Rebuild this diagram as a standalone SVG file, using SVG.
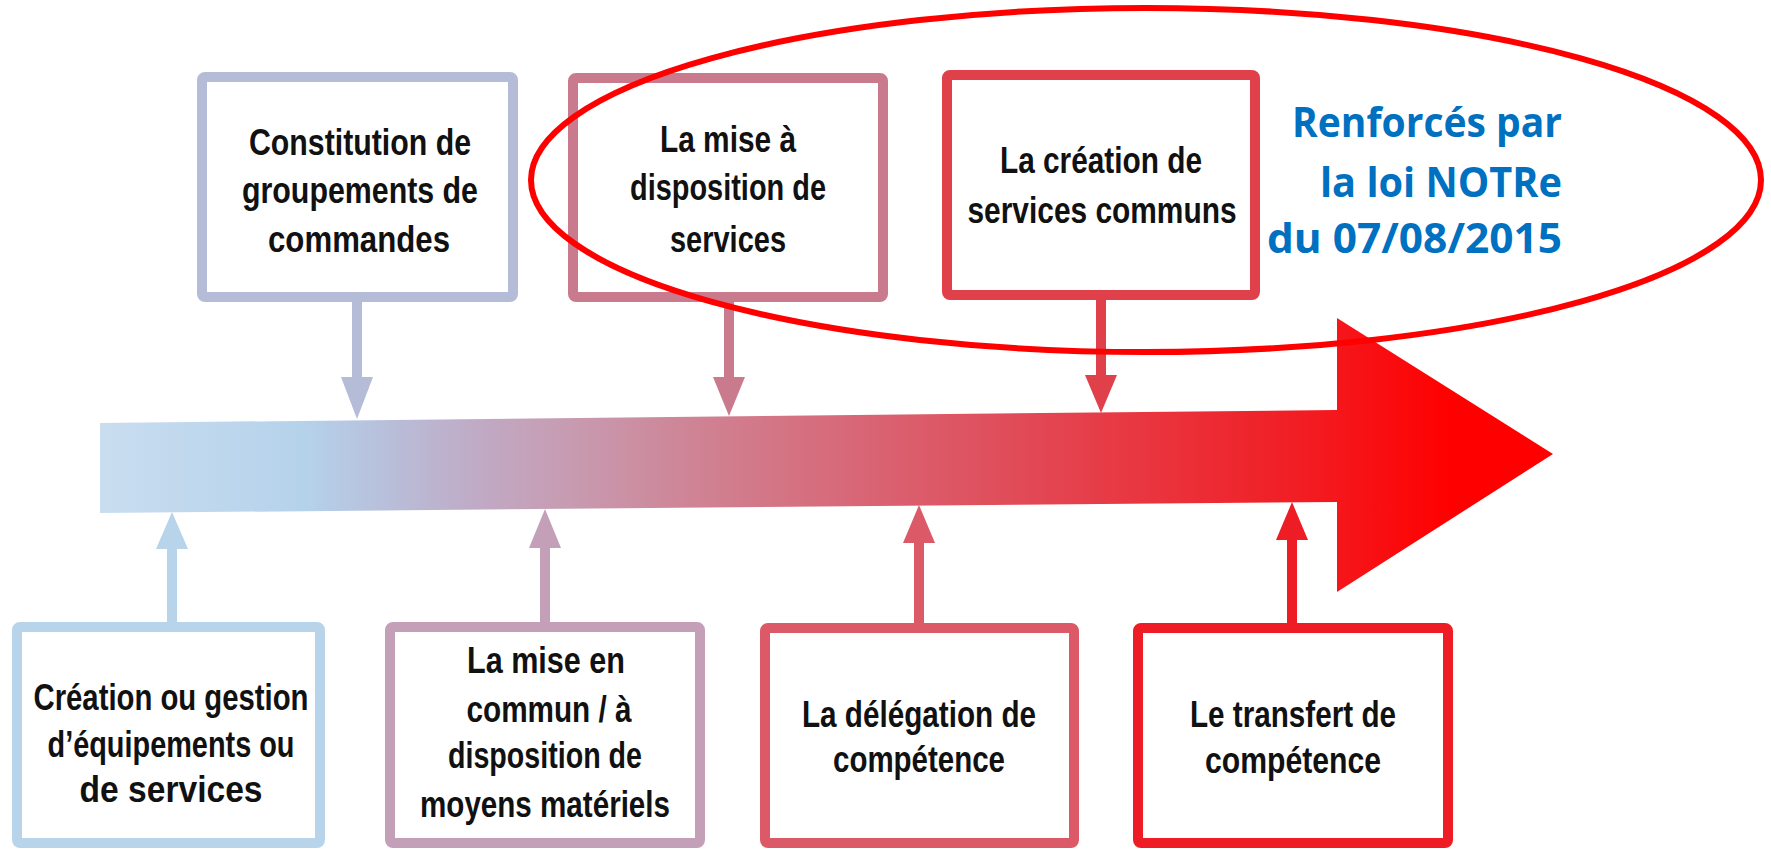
<svg xmlns="http://www.w3.org/2000/svg" width="1771" height="850" viewBox="0 0 1771 850">
  <style>
    .box { fill: #ffffff; stroke-width: 10; }
    .t { font-family: "Liberation Sans Narrow", "Liberation Sans", Arial, sans-serif; font-weight: bold; font-size: 37px; fill: #111111; text-anchor: middle; }
    .blue { font-family: "Open Sans", "Noto Sans", "Liberation Sans", sans-serif; font-weight: bold; font-size: 41px; fill: #0070c0; text-anchor: end; }
  </style>
  <defs>
    <linearGradient id="flow" gradientUnits="userSpaceOnUse" x1="100" y1="0" x2="1553" y2="0">
      <stop offset="0" stop-color="#c9ddef"/>
      <stop offset="0.14" stop-color="#b5d2eb"/>
      <stop offset="0.2" stop-color="#b8bed9"/>
      <stop offset="0.26" stop-color="#c0aac5"/>
      <stop offset="0.32" stop-color="#c79cb2"/>
      <stop offset="0.41" stop-color="#cf8394"/>
      <stop offset="0.55" stop-color="#da5f6e"/>
      <stop offset="0.69" stop-color="#e63c47"/>
      <stop offset="0.83" stop-color="#f21c22"/>
      <stop offset="0.93" stop-color="#ff0000"/>
      <stop offset="1" stop-color="#ff0000"/>
    </linearGradient>
  </defs>
  <rect width="1771" height="850" fill="#ffffff"/>

  <!-- main timeline arrow -->
  <g id="timeline">
    <polygon points="100,423 1337,410 1337,318 1553,454 1337,592 1337,502 100,513" fill="url(#flow)"/>
  </g>

  <g id="connectors">
    <g fill="#b4bcd8">
      <rect x="352" y="300" width="10" height="78"/>
      <polygon points="341,377 373,377 357,419"/>
    </g>
    <g fill="#c97b8d">
      <rect x="724" y="300" width="10" height="78"/>
      <polygon points="713,377 745,377 729,416"/>
    </g>
    <g fill="#e0404a">
      <rect x="1096" y="298" width="10" height="78"/>
      <polygon points="1085,375 1117,375 1101,413"/>
    </g>
    <g fill="#b8d4ea">
      <rect x="167" y="546" width="10" height="80"/>
      <polygon points="156,549 188,549 172,512"/>
    </g>
    <g fill="#c4a0b8">
      <rect x="540" y="546" width="10" height="80"/>
      <polygon points="529,548 561,548 545,509"/>
    </g>
    <g fill="#dc5a68">
      <rect x="914" y="541" width="10" height="85"/>
      <polygon points="903,543 935,543 919,505"/>
    </g>
    <g fill="#ee1c24">
      <rect x="1287" y="538" width="10" height="88"/>
      <polygon points="1276,540 1308,540 1292,502"/>
    </g>
  </g>

  <g id="node-groupements">
    <rect class="box" x="202" y="77" width="311" height="220" rx="3" stroke="#b4bcd8"/>
    <text class="t" x="360" y="155" textLength="222" lengthAdjust="spacingAndGlyphs">Constitution de</text>
    <text class="t" x="360" y="203" textLength="236" lengthAdjust="spacingAndGlyphs">groupements de</text>
    <text class="t" x="359" y="252" textLength="182" lengthAdjust="spacingAndGlyphs">commandes</text>
  </g>

  <g id="node-mise-disposition-services">
    <rect class="box" x="573" y="78" width="310" height="219" rx="3" stroke="#c97b8d"/>
    <text class="t" x="728" y="152" textLength="136" lengthAdjust="spacingAndGlyphs">La mise à</text>
    <text class="t" x="728" y="200" textLength="196" lengthAdjust="spacingAndGlyphs">disposition de</text>
    <text class="t" x="728" y="252" textLength="116" lengthAdjust="spacingAndGlyphs">services</text>
  </g>

  <g id="node-services-communs">
    <rect class="box" x="947" y="75" width="308" height="220" rx="3" stroke="#e0404a"/>
    <text class="t" x="1101" y="173" textLength="202" lengthAdjust="spacingAndGlyphs">La création de</text>
    <text class="t" x="1102" y="223" textLength="269" lengthAdjust="spacingAndGlyphs">services communs</text>
  </g>

  <g id="node-equipements">
    <rect class="box" x="17" y="627" width="303" height="216" rx="3" stroke="#b8d4ea"/>
    <text class="t" x="171" y="710" textLength="275" lengthAdjust="spacingAndGlyphs">Création ou gestion</text>
    <text class="t" x="171" y="757" textLength="247" lengthAdjust="spacingAndGlyphs">d’équipements ou</text>
    <text class="t" x="171" y="802" textLength="183" lengthAdjust="spacingAndGlyphs">de services</text>
  </g>

  <g id="node-moyens-materiels">
    <rect class="box" x="390" y="627" width="310" height="216" rx="3" stroke="#c4a0b8"/>
    <text class="t" x="546" y="673" textLength="158" lengthAdjust="spacingAndGlyphs">La mise en</text>
    <text class="t" x="549" y="722" textLength="165" lengthAdjust="spacingAndGlyphs">commun / à</text>
    <text class="t" x="545" y="768" textLength="194" lengthAdjust="spacingAndGlyphs">disposition de</text>
    <text class="t" x="545" y="817" textLength="250" lengthAdjust="spacingAndGlyphs">moyens matériels</text>
  </g>

  <g id="node-delegation">
    <rect class="box" x="765" y="628" width="309" height="215" rx="3" stroke="#dc5a68"/>
    <text class="t" x="919" y="727" textLength="234" lengthAdjust="spacingAndGlyphs">La délégation de</text>
    <text class="t" x="919" y="772" textLength="172" lengthAdjust="spacingAndGlyphs">compétence</text>
  </g>

  <g id="node-transfert">
    <rect class="box" x="1138" y="628" width="310" height="215" rx="3" stroke="#ee1c24"/>
    <text class="t" x="1293" y="727" textLength="206" lengthAdjust="spacingAndGlyphs">Le transfert de</text>
    <text class="t" x="1293" y="773" textLength="176" lengthAdjust="spacingAndGlyphs">compétence</text>
  </g>

  <g id="note-notre">
    <text class="blue" x="1562" y="137" textLength="270" lengthAdjust="spacingAndGlyphs">Renforcés par</text>
    <text class="blue" x="1562" y="197" textLength="242" lengthAdjust="spacingAndGlyphs">la loi NOTRe</text>
    <text class="blue" x="1562" y="253" textLength="295" lengthAdjust="spacingAndGlyphs">du 07/08/2015</text>
  </g>

  <g id="highlight-ellipse">
    <ellipse cx="1146" cy="180" rx="615" ry="172" fill="none" stroke="#ff0000" stroke-width="6"/>
  </g>
</svg>
